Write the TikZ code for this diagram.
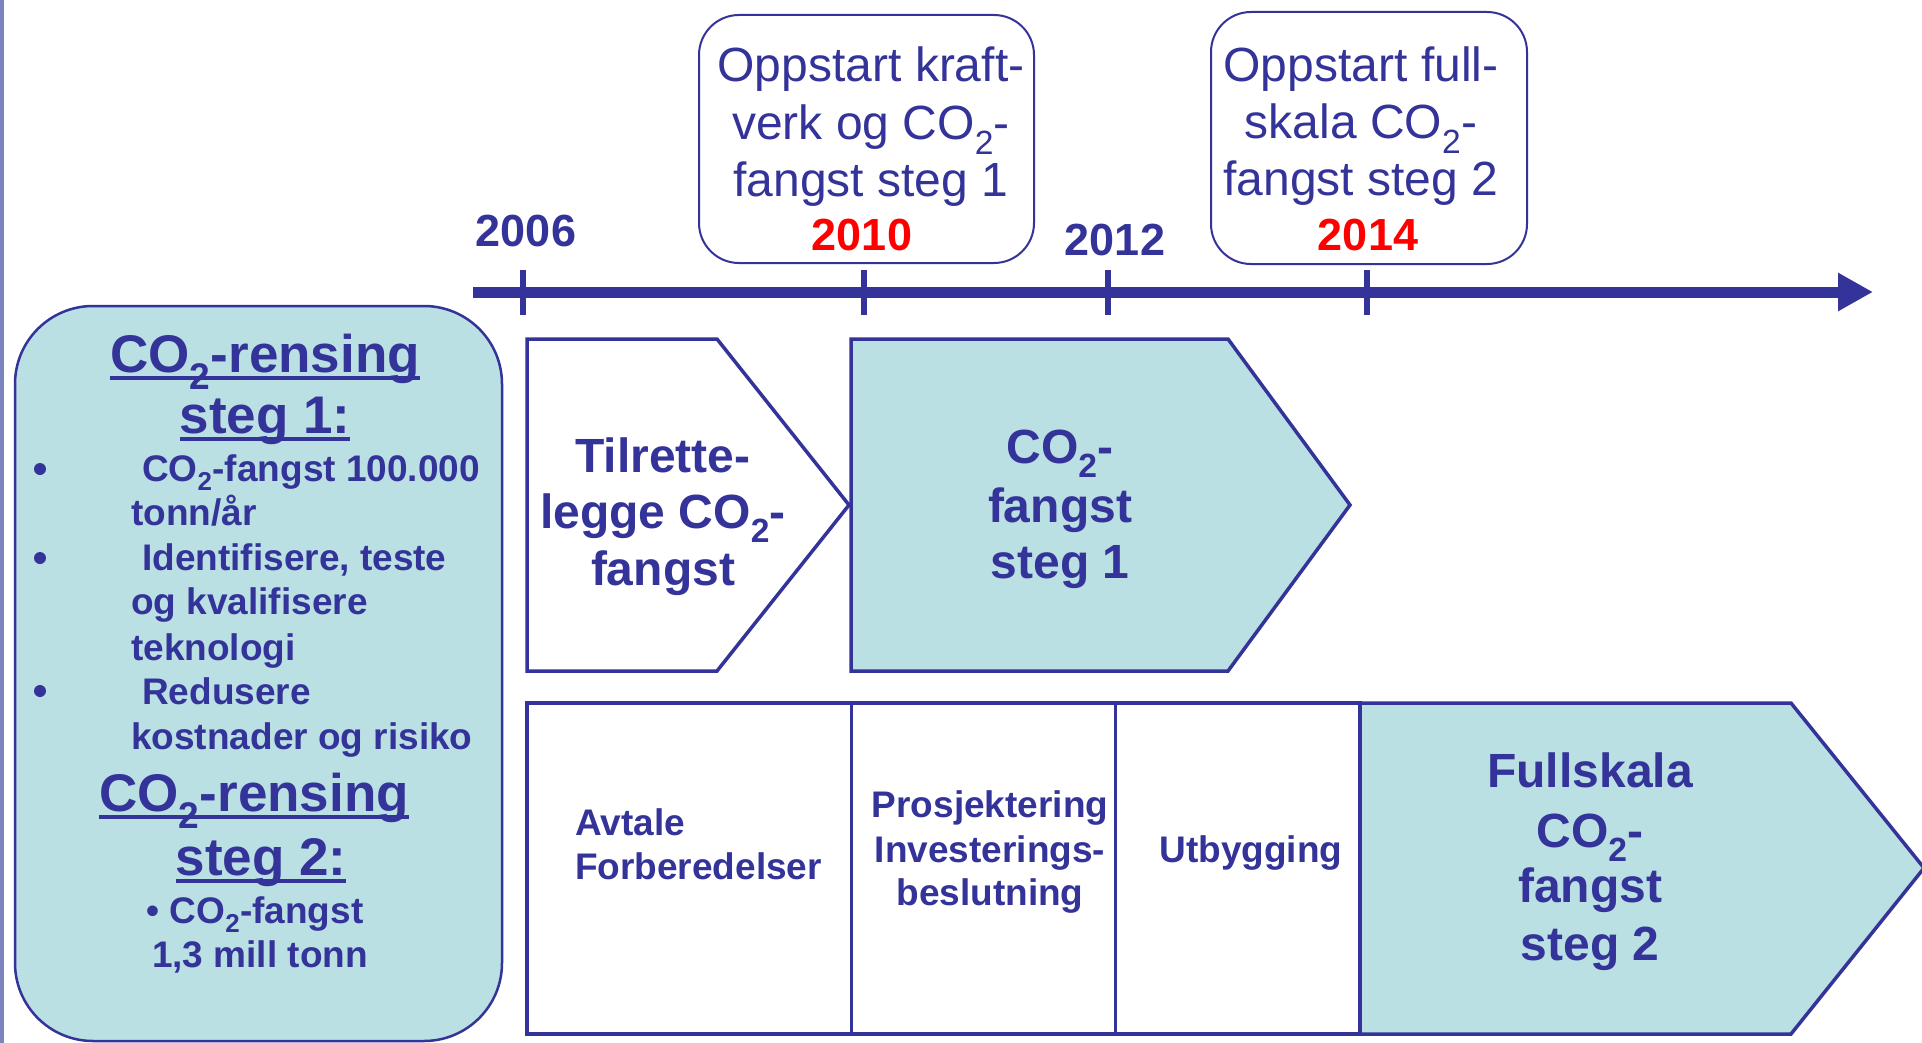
\documentclass[tikz,border=0pt]{standalone}
\usepackage{fontspec}
\setmainfont{Liberation Sans}
\usepackage{tikz}
\usetikzlibrary{arrows.meta,positioning}

\definecolor{navy}{RGB}{51,51,153}
\definecolor{paleteal}{RGB}{186,224,227}
\definecolor{edgestrip}{RGB}{124,132,190}

\newcommand{\COtwo}{CO\textsubscript{2}}
\newcommand{\ulbox}[1]{\setbox0\hbox{#1}\rlap{\rule[-0.15em]{\wd0}{0.075em}}\box0}

\tikzset{
  >={Triangle[length=35pt,width=36pt]},
  every node/.style={text=navy,inner sep=0pt},
  timeaxis/.style={->,draw=navy,line width=11pt},
  tickmark/.style={draw=navy,line width=6pt},
  yearlbl/.style={font=\fontsize{45}{54}\selectfont\bfseries,anchor=base},
  redyear/.style={yearlbl,text=red},
  milebox/.style={draw=navy,line width=2pt,rounded corners=40pt,fill=white},
  miletxt/.style={font=\fontsize{48}{58}\selectfont,anchor=base},
  chevwhite/.style={draw=navy,line width=3.5pt,fill=white,line join=miter},
  chevteal/.style={chevwhite,fill=paleteal},
  divider/.style={draw=navy,line width=3pt},
  phasetxt/.style={font=\fontsize{48}{58}\selectfont\bfseries,anchor=base},
  steptxt/.style={font=\fontsize{37}{44}\selectfont\bfseries,anchor=base},
  leftpanel/.style={draw=navy,line width=2.5pt,fill=paleteal,rounded corners=78pt},
  paneltitle/.style={font=\fontsize{53}{62}\selectfont\bfseries,anchor=base},
  paneltxt/.style={font=\fontsize{37}{44}\selectfont\bfseries,anchor=base west},
  bulletdot/.style={circle,fill=navy,minimum size=12pt},
}

\begin{document}
\begin{tikzpicture}[x=1pt,y=-1pt]
  \useasboundingbox (0,0) rectangle (1922,1043);
  \fill[edgestrip] (0,0) rectangle (4,1043);

  \coordinate (tl0) at (473,292);
  \coordinate (tl1) at (1873,292);
  \draw[timeaxis] (tl0) -- (tl1);
  \foreach \x/\nm in {523/y06,864/y10,1108/y12,1367/y14}{
    \coordinate (\nm) at (\x,292);
    \draw[tickmark] ([yshift=22pt]\nm) -- ([yshift=-23pt]\nm);
  }
  \node[yearlbl] (l06) at (526,247) {2006};
  \node[yearlbl] (l12) at (1115,255) {2012};

  \node[milebox,minimum width=335pt,minimum height=248pt] (kraft) at (866.5,139) {};
  \foreach \txt [count=\i] in {Oppstart kraft-,verk og \COtwo-,fangst steg 1}
    \node[miletxt] (kraft\i) at (871,24.5+57.5*\i) {\txt};
  \node[redyear] (l10) at (862,251) {2010};

  \node[milebox,minimum width=316pt,minimum height=252pt] (full) at (1369,138) {};
  \foreach \txt [count=\i] in {Oppstart full-,skala \COtwo-,fangst steg 2}
    \node[miletxt] (full\i) at (1361,25+57*\i) {\txt};
  \node[redyear] (l14) at (1368,251) {2014};

  \draw[chevwhite] (527,339) -- (717,339) -- (849,505) -- (717,671) -- (527,671) -- cycle;
  \foreach \txt/\y [count=\i] in {Tilrette-/472,legge \COtwo-/528,fangst/585}
    \node[phasetxt] (tilr\i) at (663,\y) {\txt};
  \draw[chevteal] (851,339) -- (1228,339) -- (1350,505) -- (1228,671) -- (851,671) -- cycle;
  \foreach \txt/\y [count=\i] in {\COtwo-/463,fangst/522,steg 1/578}
    \node[phasetxt] (fst\i) at (1060,\y) {\txt};

  \draw[chevwhite] (527,703) rectangle (1360,1034);
  \draw[divider] (851,703) -- (851,1034);
  \draw[divider] (1115,703) -- (1115,1034);
  \draw[chevteal] (1360,703) -- (1791,703) -- (1924,868) -- (1791,1034) -- (1360,1034) -- cycle;
  \node[steptxt,anchor=base west] (avt1) at (575,835) {Avtale};
  \node[steptxt,anchor=base west] (avt2) at (575,879) {Forberedelser};
  \foreach \txt/\y [count=\i] in {Prosjektering/817,Investerings-/862,beslutning/905}
    \node[steptxt] (pro\i) at (990,\y) {\txt};
  \node[steptxt] (utb) at (1251,862) {Utbygging};
  \foreach \txt/\y [count=\i] in {Fullskala/787,\COtwo-/847,fangst/902,steg 2/960}
    \node[phasetxt] (fsk\i) at (1590,\y) {\txt};

  \draw[leftpanel] (15,306) rectangle (502,1041);
  \node[paneltitle] (ren1a) at (265,372) {\ulbox{\COtwo-rensing}};
  \node[paneltitle] (ren1b) at (265,433) {\ulbox{steg 1:}};
  \foreach \y in {469,558,691}
    \node[bulletdot] (dot\y) at (40,\y) {};
  \node[paneltxt] (it1a) at (142,481) {\COtwo-fangst 100.000};
  \node[paneltxt] (it1b) at (131,525) {tonn/år};
  \node[paneltxt] (it2a) at (142,570) {Identifisere, teste};
  \node[paneltxt] (it2b) at (131,614) {og kvalifisere};
  \node[paneltxt] (it2c) at (131,660) {teknologi};
  \node[paneltxt] (it3a) at (142,704) {Redusere};
  \node[paneltxt] (it3b) at (131,749) {kostnader og risiko};
  \node[paneltitle] (ren2a) at (254,811) {\ulbox{\COtwo-rensing}};
  \node[paneltitle] (ren2b) at (261,875) {\ulbox{steg 2:}};
  \node[steptxt] (it4a) at (255,923) {• \COtwo-fangst};
  \node[steptxt] (it4b) at (260,967) {1,3 mill tonn};
\end{tikzpicture}
\end{document}
